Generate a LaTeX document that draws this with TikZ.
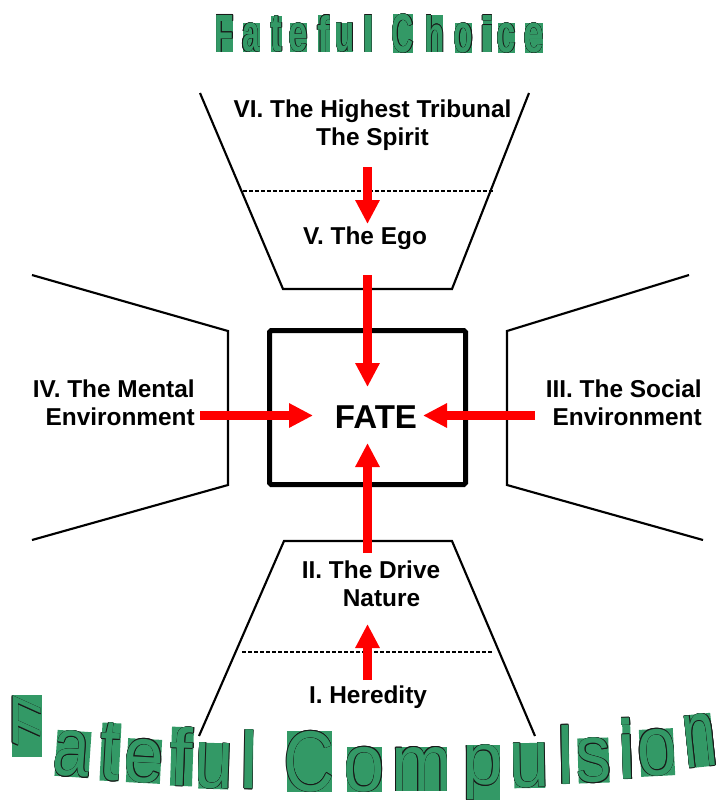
\documentclass[tikz,border=0pt]{standalone}
\usepackage{fontspec}
\setmainfont{Liberation Sans}
\newfontfamily\wafont{Liberation Sans}
\newfontfamily\wbfont{Liberation Sans Bold}
\usetikzlibrary{arrows.meta}
\definecolor{sgreen}{RGB}{51,153,102}
\definecolor{fred}{RGB}{255,0,0}
\definecolor{oline}{RGB}{25,25,25}

\newcommand\olt[1]{%
  \setbox0=\hbox{#1}%
  \setbox2=\hbox{\color{oline}%
   \rlap{\kern-0.33pt\copy0}%
   \rlap{\kern0.33pt\copy0}%
   \rlap{\raise0.33pt\copy0}%
   \rlap{\lower0.33pt\copy0}%
   \rlap{\kern-0.23pt\raise0.23pt\copy0}%
   \rlap{\kern0.23pt\raise0.23pt\copy0}%
   \rlap{\kern-0.23pt\lower0.23pt\copy0}%
   \rlap{\kern0.23pt\lower0.23pt\copy0}%
   \color{sgreen}\copy0}%
  \ht2=\ht0 \dp2=\dp0 \box2}

% ink-tight glyph box
\newdimen\glsb \newdimen\grsb
\newcommand\inkglyph[2]{{#1%
  \glsb=\XeTeXglyphbounds1 \XeTeXcharglyph`#2\relax
  \grsb=\XeTeXglyphbounds3 \XeTeXcharglyph`#2\relax
  \hbox{\kern-\glsb #2\kern-\grsb}}}

\newcommand\wl[8]{%
  \pgfmathsetmacro\wlcx{(#2+#4)/2}%
  \pgfmathsetmacro\wlcy{(#3+#5)/2}%
  \pgfmathsetmacro\wlw{(#4-#2)*0.75}%
  \pgfmathsetmacro\wlh{(#5-#3)*0.75}%
  \node[wlbox, rotate=#6] (#1) at (\wlcx,\wlcy) {\olt{\resizebox*{\wlw pt}{\wlh pt}{\inkglyph{#7}{#8}}}};}

\tikzset{
  wlbox/.style={fill=sgreen, inner sep=0pt, outer sep=0pt},
  lab/.style={font=\fontsize{18.3}{22}\selectfont\bfseries, inner sep=0pt, anchor=base},
  labr/.style={lab, anchor=base east},
  edge/.style={draw=black, line width=1.6pt, line join=miter},
  sep/.style={draw=black, line width=1.3pt, dash pattern=on 3pt off 1.5pt},
  redarr/.style={draw=fred, line width=6.75pt, -{Triangle[length=18pt,width=17.25pt]}},
}

\begin{document}
\begin{tikzpicture}[x=0.75pt, y=-0.75pt]
\useasboundingbox (0,0) rectangle (715,800);

% top funnel
\draw[edge] (200,93) -- (283,289) -- (452,289) -- (529,93);
\draw[sep] (243,191) -- (493,191);
% bottom funnel
\draw[edge] (199,736) -- (284,541) -- (452,541) -- (535,736);
\draw[sep] (242,652) -- (493,652);
% left wing
\draw[edge] (32,275) -- (228,331) -- (228,485) -- (32,540);
% right wing
\draw[edge] (689,275) -- (507,331) -- (507,485) -- (703,540);

% central box
\node[draw=black, line width=3.75pt, rounded corners=1.2pt, minimum width=147pt, minimum height=115.5pt, inner sep=0pt] (box) at (367.5,407.5) {};
\node[font=\fontsize{24.8}{28}\selectfont\bfseries, inner sep=0pt, anchor=base] (fate) at (376,428) {FATE};

% labels
\node[lab] (vi1) at (372.5,117) {VI. The Highest Tribunal};
\node[lab] (vi2) at (372.5,145) {The Spirit};
\node[lab] (v) at (365,244) {V. The Ego};
\node[labr] (iv1) at (195,397) {IV. The Mental};
\node[labr] (iv2) at (195,425) {Environment};
\node[labr] (iii1) at (702,397) {III. The Social};
\node[labr] (iii2) at (702,425) {Environment};
\node[lab] (ii1) at (371,578) {II. The Drive};
\node[lab] (ii2) at (381.5,606) {Nature};
\node[lab] (i) at (368,703) {I. Heredity};

% arrows
\coordinate (a1s) at (367.5,167); \coordinate (a1e) at (367.5,224);
\coordinate (a2s) at (367.5,275); \coordinate (a2e) at (367.5,387);
\coordinate (a3s) at (200,415.5); \coordinate (a3e) at (313,415.5);
\coordinate (a4s) at (535,415.5); \coordinate (a4e) at (423,415.5);
\coordinate (a5s) at (367.5,553); \coordinate (a5e) at (367.5,443);
\coordinate (a6s) at (367.5,680); \coordinate (a6e) at (367.5,624);
\draw[redarr] (a1s) -- (a1e);
\draw[redarr] (a2s) -- (a2e);
\draw[redarr] (a3s) -- (a3e);
\draw[redarr] (a4s) -- (a4e);
\draw[redarr] (a5s) -- (a5e);
\draw[redarr] (a6s) -- (a6e);

% title: Fateful Choice
\wl{t1}{217}{15}{233}{52}{0}{\wbfont}{F}
\wl{t2}{243}{23}{260}{52}{0}{\wbfont}{a}
\wl{t3}{271}{16}{282}{52}{0}{\wbfont}{t}
\wl{t4}{290}{23}{307}{52}{0}{\wbfont}{e}
\wl{t5}{318}{15}{330}{52}{0}{\wbfont}{f}
\wl{t6}{337}{23}{353}{52}{0}{\wbfont}{u}
\wl{t7}{365}{15}{372}{52}{0}{\wbfont}{l}
\wl{t8}{393}{14}{413}{53}{0}{\wbfont}{C}
\wl{t9}{427}{15}{443}{52}{0}{\wbfont}{h}
\wl{t10}{455}{23}{472}{53}{0}{\wbfont}{o}
\wl{t11}{483}{15}{492}{52}{0}{\wbfont}{i}
\wl{t12}{498}{23}{515}{53}{0}{\wbfont}{c}
\wl{t13}{525}{23}{543}{53}{0}{\wbfont}{e}

% bottom: Fateful Compulsion
\node[wlbox, minimum width=22.5pt, minimum height=46.5pt] (b1) at (27,726) {};
\begin{scope}[shift={(27,726)}, yslant=-0.45]
\node[inner sep=0pt, transform shape] (b1f) at (0,0) {\olt{\resizebox*{21pt}{35pt}{\inkglyph{\wafont}{F}}}};
\end{scope}
\wl{b2}{56}{731}{90}{777}{-4}{\wafont}{a}
\wl{b3}{101}{723}{120}{781}{-3}{\wafont}{t}
\wl{b4}{127}{739}{161}{783}{-3}{\wafont}{e}
\wl{b5}{171}{727}{193}{786}{-2}{\wafont}{f}
\wl{b6}{199}{743}{229}{789}{-2}{\wafont}{u}
\wl{b7}{245}{730}{253}{789}{-1}{\wafont}{l}
\wl{b8}{287}{731}{332}{792}{0}{\wafont}{C}
\wl{b9}{347}{747}{382}{792}{0}{\wafont}{o}
\wl{b10}{396}{747}{447}{791}{0}{\wafont}{m}
\wl{b11}{467}{745}{500}{800}{0}{\wafont}{p}
\wl{b12}{514}{743}{545}{788}{1}{\wafont}{u}
\wl{b13}{562}{725}{569}{784}{1}{\wafont}{l}
\wl{b14}{578}{738}{609}{783}{2}{\wafont}{s}
\wl{b15}{623}{718}{631}{779}{2}{\wafont}{i}
\wl{b16}{640}{729}{674}{776}{3}{\wafont}{o}
\wl{b17}{687}{714}{713}{767}{6}{\wafont}{n}
\end{tikzpicture}
\end{document}
